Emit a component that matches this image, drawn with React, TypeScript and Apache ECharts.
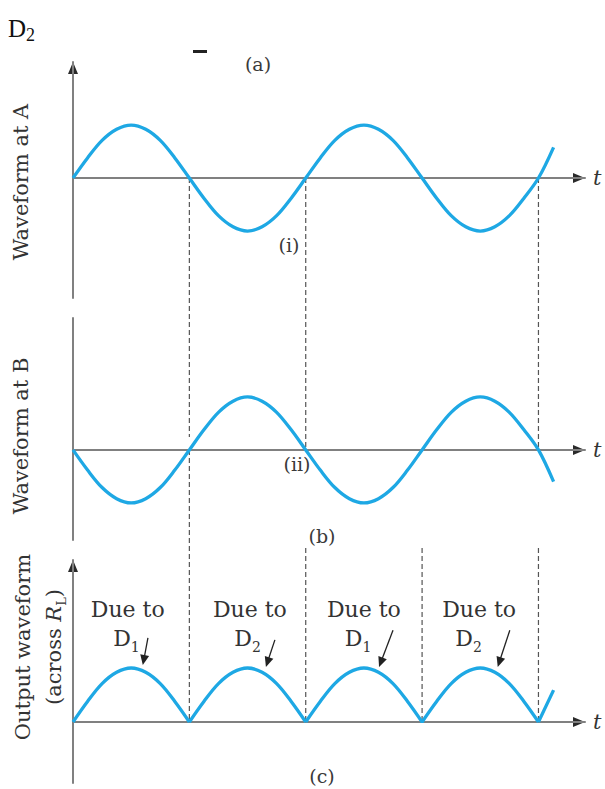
import React, { useEffect, useRef } from 'react';
import * as echarts from 'echarts';

// time in half-periods of the input sine wave
const tValues = [0, 0.125, 0.25, 0.375, 0.5, 0.625, 0.75, 0.875, 1, 1.125, 1.25, 1.375, 1.5, 1.625, 1.75, 1.875, 2, 2.125, 2.25, 2.375, 2.5, 2.625, 2.75, 2.875, 3, 3.125, 3.25, 3.375, 3.5, 3.625, 3.75, 3.875, 4, 4.13];
// waveform at A (relative amplitude)
const waveA = [0, 0.38, 0.71, 0.92, 1, 0.92, 0.71, 0.38, 0, -0.38, -0.71, -0.92, -1, -0.92, -0.71, -0.38, 0, 0.38, 0.71, 0.92, 1, 0.92, 0.71, 0.38, 0, -0.38, -0.71, -0.92, -1, -0.92, -0.71, -0.38, 0, 0.58];
// waveform at B
const waveB = [0, -0.38, -0.71, -0.92, -1, -0.92, -0.71, -0.38, 0, 0.38, 0.71, 0.92, 1, 0.92, 0.71, 0.38, 0, -0.38, -0.71, -0.92, -1, -0.92, -0.71, -0.38, 0, 0.38, 0.71, 0.92, 1, 0.92, 0.71, 0.38, 0, -0.6];
// output across R_L
const waveOut = [0, 0.38, 0.71, 0.92, 1, 0.92, 0.71, 0.38, 0, 0.38, 0.71, 0.92, 1, 0.92, 0.71, 0.38, 0, 0.38, 0.71, 0.92, 1, 0.92, 0.71, 0.38, 0, 0.38, 0.71, 0.92, 1, 0.92, 0.71, 0.38, 0, 0.59];

const panelNames = ['Waveform at A', 'Waveform at B'];
const panelYMin = [-2.264, -1.7, -1.13];
const panelYMax = [2.19, 2.49, 3.0];
const panelYArrow = [true, false, true];
const xMax = 4.4;

// dashed guide lines: time, start panel/value, end panel/value
const dashT = [1, 1, 2, 2, 3, 4, 4];
const dashFromPanel = [0, 1, 0, 2, 2, 0, 2];
const dashFromV = [0, 0, 0, 3.22, 3.22, 0, 3.22];
const dashToPanel = [1, 2, 1, 2, 2, 1, 2];
const dashToV = [0.245, 0, 0, 0, 0, 0, 0];

// "Due to D" annotations in output panel
const dueText = ['Due to', 'Due to', 'Due to', 'Due to'];
const dueTextT = [0.47, 1.52, 2.5, 3.49];
const dueTextV = 2.09;
const diodeSub = ['1', '2', '1', '2'];
const diodeT = [0.46, 1.5, 2.45, 3.4];
const diodeV = 1.54;
const arrowFrom = [[0.644, 1.556], [1.735, 1.52], [2.75, 1.7], [3.754, 1.7]];
const arrowTo = [[0.6, 1.056], [1.658, 1.02], [2.63, 1.02], [3.65, 1.02]];

const curveColor = '#1ea8e4';
const axisColor = '#808080';
const textColor = '#333';
const serif = 'DejaVu Serif';

export default function App() {
  const ref = useRef<HTMLDivElement>(null);
  useEffect(() => {
    const chart = echarts.init(ref.current!, null, { renderer: 'svg' });
    const grids = [
      { left: 73, top: 62, width: 512, height: 236 },
      { left: 73, top: 318, width: 512, height: 222 },
      { left: 73, top: 560, width: 512, height: 223 },
    ];
    const xAxes = grids.map((_, i) => ({
      type: 'value', gridIndex: i, min: 0, max: xMax,
      axisLine: { show: true, onZero: true, lineStyle: { color: axisColor, width: 2 } },
      axisTick: { show: false }, axisLabel: { show: false }, splitLine: { show: false },
      name: 't', nameLocation: 'end', nameGap: 8,
      nameTextStyle: { fontFamily: serif, fontStyle: 'italic', fontSize: 21, color: textColor, verticalAlign: 'middle' },
    }));
    const yAxes = grids.map((_, i) => ({
      type: 'value', gridIndex: i, min: panelYMin[i], max: panelYMax[i],
      axisLine: { show: true, onZero: false, lineStyle: { color: axisColor, width: 2 } },
      axisTick: { show: false }, axisLabel: { show: false }, splitLine: { show: false },
    }));
    const outData: any[] = [];
    tValues.forEach((t, i) => {
      outData.push([t, waveOut[i]]);
      if (i > 0 && i < tValues.length - 1 && waveOut[i] === 0) {
        outData.push([t, '-']);
        outData.push([t, 0]);
      }
    });
    const lineStyle = { color: curveColor, width: 3.3 };
    chart.setOption({
      animation: false,
      grid: grids,
      xAxis: xAxes,
      yAxis: yAxes,
      series: [
        { type: 'line', xAxisIndex: 0, yAxisIndex: 0, data: tValues.map((t, i) => [t, waveA[i]]), smooth: 0.35, showSymbol: false, lineStyle, silent: true },
        { type: 'line', xAxisIndex: 1, yAxisIndex: 1, data: tValues.map((t, i) => [t, waveB[i]]), smooth: 0.35, showSymbol: false, lineStyle, silent: true },
        { type: 'line', xAxisIndex: 2, yAxisIndex: 2, data: outData, smooth: 0.35, showSymbol: false, connectNulls: false, lineStyle, silent: true },
      ],
    });

    const px = (t: number) => chart.convertToPixel({ xAxisIndex: 0 }, t) as number;
    const py = (k: number, v: number) => chart.convertToPixel({ yAxisIndex: k }, v) as number;

    const graphic: any[] = [];
    // axis arrowheads
    const headL = 12, headW = 5;
    [0, 1, 2].forEach((k) => {
      const xe = px(xMax), y0 = py(k, 0);
      graphic.push({ type: 'polygon', silent: true, shape: { points: [[xe, y0], [xe - headL, y0 - headW], [xe - headL, y0 + headW]] }, style: { fill: '#2a2a2a' } });
      if (panelYArrow[k]) {
        const x0 = px(0), ye = py(k, panelYMax[k]);
        graphic.push({ type: 'polygon', silent: true, shape: { points: [[x0, ye], [x0 - headW, ye + headL], [x0 + headW, ye + headL]] }, style: { fill: '#2a2a2a' } });
      }
    });
    dashT.forEach((t, i) => {
      const x = px(t);
      graphic.push({
        type: 'line', silent: true,
        shape: { x1: x, y1: py(dashFromPanel[i], dashFromV[i]), x2: x, y2: py(dashToPanel[i], dashToV[i]) },
        style: { stroke: '#555', lineWidth: 1.2, lineDash: [5, 3] },
      });
    });
    arrowFrom.forEach((f, i) => {
      const x1 = px(f[0]), y1 = py(2, f[1]);
      const x2 = px(arrowTo[i][0]), y2 = py(2, arrowTo[i][1]);
      const dx = x2 - x1, dy = y2 - y1;
      const len = Math.sqrt(dx * dx + dy * dy);
      const ux = dx / len, uy = dy / len;
      const hl = 10, hw = 4.5;
      const bx = x2 - ux * hl, by = y2 - uy * hl;
      graphic.push({ type: 'line', silent: true, shape: { x1, y1, x2: bx + ux * 2, y2: by + uy * 2 }, style: { stroke: '#222', lineWidth: 1.3 } });
      graphic.push({
        type: 'polygon', silent: true,
        shape: { points: [[x2, y2], [bx - uy * hw, by + ux * hw], [bx + uy * hw, by - ux * hw]] },
        style: { fill: '#222' },
      });
    });
    dueText.forEach((s, i) => {
      graphic.push({
        type: 'text', silent: true, x: px(dueTextT[i]), y: py(2, dueTextV),
        style: { text: s, fontFamily: serif, fontSize: 22, fill: textColor, align: 'center', verticalAlign: 'middle' },
      });
      graphic.push({
        type: 'text', silent: true, x: px(diodeT[i]), y: py(2, diodeV),
        style: {
          text: '{d|D}{s|' + diodeSub[i] + '}', align: 'center', verticalAlign: 'middle',
          rich: {
            d: { fontFamily: serif, fontSize: 22, fill: textColor, lineHeight: 30 },
            s: { fontFamily: serif, fontSize: 14, fill: textColor, lineHeight: 14, verticalAlign: 'bottom' },
          },
        },
      });
    });
    // panel titles (rotated)
    panelNames.forEach((n, i) => {
      graphic.push({
        type: 'text', silent: true, x: 21, y: i === 0 ? 182 : 436, rotation: Math.PI / 2,
        style: { text: n, fontFamily: serif, fontSize: 21, fill: textColor, align: 'center', verticalAlign: 'middle' },
      });
    });
    graphic.push({
      type: 'text', silent: true, x: 23, y: 647, rotation: Math.PI / 2,
      style: { text: 'Output waveform', fontFamily: serif, fontSize: 21, fill: textColor, align: 'center', verticalAlign: 'middle' },
    });
    graphic.push({
      type: 'text', silent: true, x: 54, y: 647, rotation: Math.PI / 2,
      style: {
        text: '{n|(across }{i|R}{s|L}{n|)}', align: 'center', verticalAlign: 'middle',
        rich: {
          n: { fontFamily: serif, fontSize: 21, fill: textColor, lineHeight: 28 },
          i: { fontFamily: serif, fontStyle: 'italic', fontSize: 21, fill: textColor, lineHeight: 28 },
          s: { fontFamily: serif, fontSize: 13, fill: textColor, lineHeight: 13, verticalAlign: 'bottom' },
        },
      },
    });
    // small labels
    const small = [['(a)', 258, 64], ['(i)', 289, 245], ['(ii)', 297, 464], ['(b)', 322, 536], ['(c)', 322, 776]];
    small.forEach((s) => {
      graphic.push({
        type: 'text', silent: true, x: s[1], y: s[2],
        style: { text: s[0], fontFamily: serif, fontSize: 19, fill: '#3a3a3a', align: 'center', verticalAlign: 'middle' },
      });
    });
    graphic.push({ type: 'rect', silent: true, shape: { x: 193, y: 50, width: 14, height: 3 }, style: { fill: '#222' } });
    graphic.push({
      type: 'text', silent: true, x: 8, y: 28,
      style: {
        text: '{d|D}{s|2}', align: 'left', verticalAlign: 'middle',
        rich: {
          d: { fontFamily: 'Liberation Serif', fontSize: 25, fill: '#111', lineHeight: 32 },
          s: { fontFamily: 'Liberation Serif', fontSize: 18, fill: '#111', lineHeight: 18, verticalAlign: 'bottom' },
        },
      },
    });
    chart.setOption({ graphic });
    return () => chart.dispose();
  }, []);
  return <div ref={ref} style={{ position: 'absolute', left: 0, top: 0, width: 605, height: 789, background: '#fff' }} />;
}
